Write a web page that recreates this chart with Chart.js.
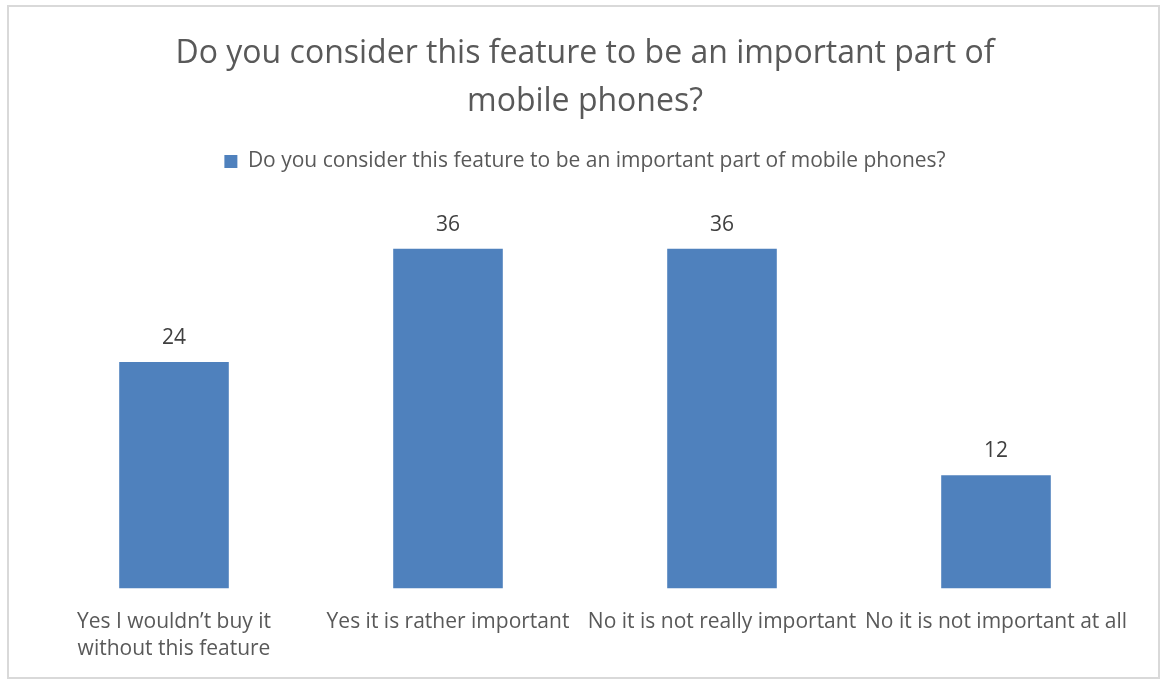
<!DOCTYPE html>
<html>
<head>
<meta charset="utf-8">
<script src="https://cdn.jsdelivr.net/npm/chart.js@4.4.1/dist/chart.umd.min.js"></script>
<style>
  body { margin: 0; background: #fff; }
  #wrap {
    position: absolute; left: 7px; top: 5px;
    width: 1149px; height: 670px;
    border: 2px solid #d9d9d9; background: #fff;
  }
</style>
</head>
<body>
<div id="wrap"><canvas id="chart"></canvas></div>
<script>
var categories = [
  ['Yes I wouldn\u2019t buy it', 'without this feature'],
  'Yes it is rather important',
  'No it is not really important',
  'No it is not important at all'
];
var answers = [24, 36, 36, 12];
var seriesName = 'Do you consider this feature to be an important part of mobile phones?';
var titleLines = ['Do you consider this feature to be an important part of', 'mobile phones?'];

var font = "'Open Sans', 'Liberation Sans', sans-serif";
var grey = '#595959';

// numbers above each bar
var valueLabels = {
  id: 'valueLabels',
  afterDatasetsDraw: function (chart) {
    var ctx = chart.ctx;
    var meta = chart.getDatasetMeta(0);
    ctx.save();
    ctx.font = '21px ' + font;
    ctx.fillStyle = '#404040';
    ctx.textAlign = 'center';
    ctx.textBaseline = 'middle';
    meta.data.forEach(function (bar, i) {
      ctx.fillText(chart.data.datasets[0].data[i], bar.x, bar.y - 24);
    });
    ctx.restore();
  }
};

// leave some room between the legend and the bars
var legendGap = {
  id: 'legendGap',
  beforeInit: function (chart) {
    var fit = chart.legend.fit;
    chart.legend.fit = function () {
      fit.call(this);
      this.height += 29;
    };
  }
};

var ctx = document.getElementById('chart').getContext('2d');
var chart = new Chart(ctx, {
  type: 'bar',
  data: {
    labels: categories,
    datasets: [{
      label: seriesName,
      data: answers,
      backgroundColor: '#4f81bd',
      borderWidth: 0,
      categoryPercentage: 1,
      barPercentage: 0.4
    }]
  },
  options: {
    responsive: true,
    maintainAspectRatio: false,
    animation: false,
    layout: { padding: { left: 28, right: 25, top: 23, bottom: -6 } },
    plugins: {
      title: {
        display: true,
        text: titleLines,
        color: grey,
        font: { family: font, size: 32, weight: 'normal', lineHeight: 1.5 },
        padding: { top: 0, bottom: 15 }
      },
      legend: {
        position: 'top',
        labels: {
          color: grey,
          font: { family: font, size: 21 },
          boxWidth: 13,
          boxHeight: 13,
          padding: 10
        }
      },
      tooltip: { enabled: false }
    },
    scales: {
      x: {
        grid: { display: false, drawTicks: false },
        border: { display: false },
        ticks: {
          color: grey,
          font: { family: font, size: 21, lineHeight: 1.3 },
          maxRotation: 0,
          autoSkip: false,
          padding: 20
        }
      },
      y: {
        display: false,
        min: 0,
        max: 40
      }
    }
  },
  plugins: [valueLabels, legendGap]
});
</script>
</body>
</html>
